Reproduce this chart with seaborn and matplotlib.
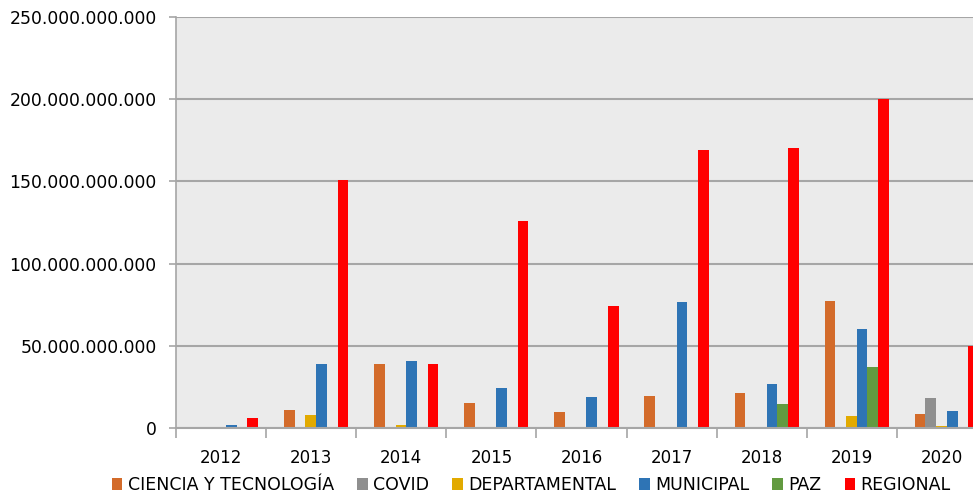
import numpy as np
import pandas as pd
import matplotlib
matplotlib.use("Agg")
import matplotlib.pyplot as plt
from matplotlib.ticker import FuncFormatter
import seaborn as sns

# values (pesos)
years = ['2012', '2013', '2014', '2015', '2016', '2017', '2018', '2019', '2020']
series = ['CIENCIA Y TECNOLOGÍA', 'COVID', 'DEPARTAMENTAL', 'MUNICIPAL', 'PAZ', 'REGIONAL']

ciencia = [0, 11.0e9, 39.0e9, 15.2e9, 9.9e9, 19.5e9, 21.1e9, 77.4e9, 8.3e9]
covid = [0, 0, 0, 0, 0, 0, 0, 0, 18.4e9]
departamental = [0.3e9, 8.0e9, 1.8e9, 0, 0, 0, 0, 7.3e9, 1.4e9]
municipal = [1.8e9, 39.0e9, 40.7e9, 24.5e9, 18.7e9, 76.8e9, 26.8e9, 60.0e9, 10.3e9]
paz = [0, 0, 0, 0, 0, 0, 14.6e9, 37.3e9, 0]
regional = [6.1e9, 151.0e9, 39.0e9, 126.0e9, 74.5e9, 169.0e9, 170.5e9, 200.0e9, 50.0e9]

colors = ['#D36B2A', '#8F8F8F', '#E2AA00', '#2E74B5', '#629A40', '#FF0000']

values = [ciencia, covid, departamental, municipal, paz, regional]
rows = []
for name, vals in zip(series, values):
    for y, v in zip(years, vals):
        rows.append({'year': y, 'serie': name, 'valor': v})
df = pd.DataFrame(rows)

plt.rcParams['font.family'] = ['DejaVu Sans']

fig = plt.figure(figsize=(9.73, 4.95), dpi=100)
ax = fig.add_axes([176 / 973, 1 - 428 / 495, 811 / 973, 411 / 495])
ax.set_facecolor('#EBEBEB')

sns.barplot(data=df, x='year', y='valor', hue='serie', order=years, hue_order=series,
            palette=dict(zip(series, colors)), width=0.713, dodge=True, gap=0,
            linewidth=0, saturation=1, ax=ax)

# the groups sit a little right of the category centre in the original
for p in ax.patches:
    p.set_x(p.get_x() + 0.055)

ax.set_ylim(0, 250e9)
ax.set_xlim(-0.5, 8.5)
ax.set_yticks(np.arange(0, 250e9 + 1, 50e9))
ax.yaxis.set_major_formatter(FuncFormatter(lambda v, p: f"{int(v):,}".replace(',', '.')))
ax.yaxis.grid(True, color='#A6A6A6', linewidth=1.5)
ax.set_axisbelow(True)
ax.set_xlabel('')
ax.set_ylabel('')

for s in ['top', 'right']:
    ax.spines[s].set_visible(False)
ax.spines['left'].set_color('#A6A6A6')
ax.spines['bottom'].set_color('#A6A6A6')
ax.spines['left'].set_linewidth(1.2)
ax.spines['bottom'].set_linewidth(1.5)

ax.tick_params(axis='y', length=5, color='#A6A6A6', width=1.2, pad=9, labelsize=12.4, labelcolor='black')
ax.set_xticks(range(len(years)))
ax.set_xticklabels(years, fontsize=12)
ax.set_xticks(np.arange(-0.5, len(years), 1), minor=True)
ax.tick_params(axis='x', which='major', length=0, pad=15)
ax.tick_params(axis='x', which='minor', length=7, color='#A6A6A6', width=1.2)

sns.move_legend(ax, 'center', bbox_to_anchor=(0.438, -0.139), ncol=6, frameon=False,
                title=None, handlelength=0.6, handleheight=0.6, handletextpad=0.3,
                columnspacing=1.35, prop={'size': 12.5})

fig.savefig('out.png', dpi=100)
